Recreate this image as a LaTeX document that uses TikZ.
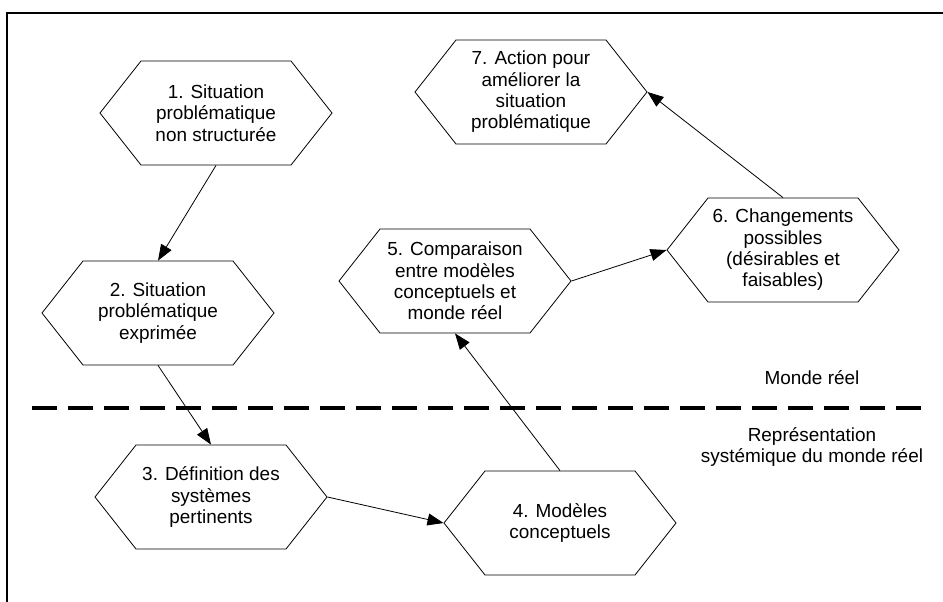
\documentclass[tikz,border=0pt]{standalone}
\usepackage{fontspec}
\setmainfont{Liberation Sans}
\usetikzlibrary{arrows.meta,shapes.symbols}

\tikzset{
  stage/.style={draw, signal, signal to=west and east, signal pointer angle=103.5,
    minimum width=174pt, minimum height=78pt, inner sep=0pt, align=center,
    line width=0.6pt},
  flow/.style={-{Triangle[length=12pt,width=9pt]}, line width=0.6pt},
  side/.style={align=center},
}

\begin{document}
\begin{tikzpicture}[x=0.75pt,y=-0.75pt,font=\fontsize{14.2}{16}\selectfont]
\useasboundingbox (0,0) rectangle (943,601);
% frame
\draw[line width=1.5pt] (7,612) -- (7,13) -- (955,13);

% stages
\node[stage] (s1) at (216,113) {1. Situation\\probl\'ematique\\non structur\'ee};
\node[stage] (s2) at (158,313) {2. Situation\\probl\'ematique\\exprim\'ee};
\node[stage] (s3) at (211,497) {3. D\'efinition des\\syst\`emes\\pertinents};
\node[stage] (s4) at (560,523) {4. Mod\`eles\\conceptuels};
\node[stage] (s5) at (455,281) {5. Comparaison\\entre mod\`eles\\conceptuels et\\monde r\'eel};
\node[stage] (s6) at (783,250) {6. Changements\\possibles\\(d\'esirables et\\faisables)};
\node[stage] (s7) at (531,92) {7. Action pour\\am\'eliorer la\\situation\\probl\'ematique};

% border between the two worlds
\draw[line width=2.4pt, dash pattern=on 18.5pt off 8.5pt] (32,408) -- (925,408);
\node[side] (real) at (812,378) {Monde r\'eel};
\node[side] (sys) at (812,447) {Repr\'esentation\\syst\'emique du monde r\'eel};

% flows
\draw[flow] (s1.south) -- (s2.north);
\draw[flow] (s2.south) -- (s3.north);
\draw[flow] (s3.east) -- (s4.west);
\draw[flow] (s4.north) -- (s5.south);
\draw[flow] (s5.east) -- (s6.west);
\draw[flow] (s6.north) -- (s7.east);
\end{tikzpicture}
\end{document}
